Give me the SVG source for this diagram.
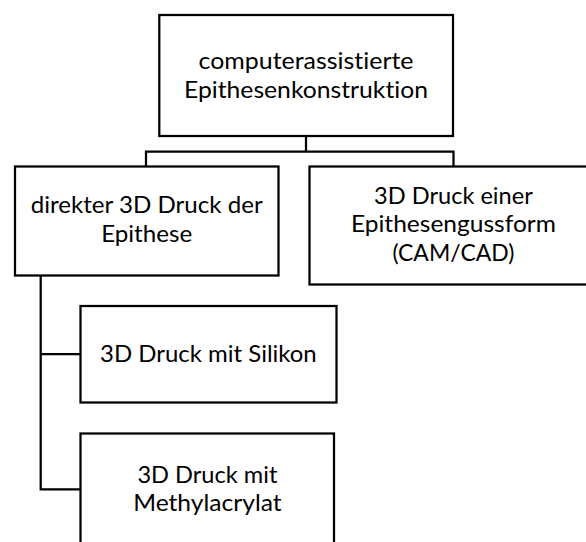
<svg xmlns="http://www.w3.org/2000/svg" width="586" height="542" viewBox="0 0 586 542">
<style>
.box{fill:#fff;stroke:#000;stroke-width:2.25}
.ln{fill:none;stroke:#000;stroke-width:2.25}
text{font-family:Lato,"Open Sans","Liberation Sans",sans-serif;font-size:24px;fill:#000;text-anchor:middle;font-variant-ligatures:none}
</style>
<rect width="586" height="542" fill="#fff"/>
<g id="connectors">
<polyline class="ln" points="306,136 306,151.5"/>
<polyline class="ln" points="146,166.5 146,151.5 453.5,151.5 453.5,166.5"/>
<polyline class="ln" points="40.7,276 40.7,489.3 80.5,489.3"/>
<polyline class="ln" points="40.7,354 80.5,354"/>
</g>
<g id="n-root">
<rect class="box" x="159.3" y="15" width="293.7" height="121"/>
<text x="306" y="69" textLength="215" lengthAdjust="spacingAndGlyphs">computerassistierte</text>
<text x="306" y="97.7" textLength="244" lengthAdjust="spacingAndGlyphs">Epithesenkonstruktion</text>
</g>
<g id="n-direkt">
<rect class="box" x="15" y="166.5" width="263.5" height="109"/>
<text x="146.7" y="213.3" textLength="232" lengthAdjust="spacingAndGlyphs">direkter 3D Druck der</text>
<text x="146.7" y="241.7" textLength="91" lengthAdjust="spacingAndGlyphs">Epithese</text>
</g>
<g id="n-gussform">
<rect class="box" x="309.5" y="166.5" width="290" height="118"/>
<text x="453.4" y="203.6" textLength="158.7" lengthAdjust="spacingAndGlyphs">3D Druck einer</text>
<text x="453.4" y="232.3" textLength="205" lengthAdjust="spacingAndGlyphs">Epithesengussform</text>
<text x="453.4" y="260.7" textLength="122" lengthAdjust="spacingAndGlyphs">(CAM/CAD)</text>
</g>
<g id="n-silikon">
<rect class="box" x="80.5" y="306" width="256" height="96.5"/>
<text x="208.4" y="361.7" textLength="216.7" lengthAdjust="spacingAndGlyphs">3D Druck mit Silikon</text>
</g>
<g id="n-methyl">
<rect class="box" x="80.5" y="433.5" width="253.5" height="130"/>
<text x="207.4" y="483.3" textLength="140" lengthAdjust="spacingAndGlyphs">3D Druck mit</text>
<text x="207.4" y="511" textLength="148.4" lengthAdjust="spacingAndGlyphs">Methylacrylat</text>
</g>
</svg>
